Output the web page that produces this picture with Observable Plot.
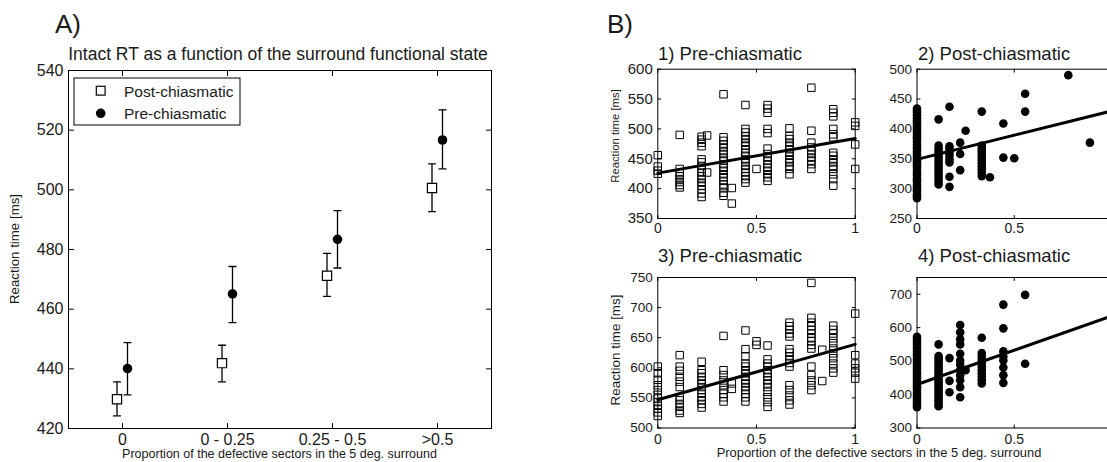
<!DOCTYPE html>
<html>
<head>
<meta charset="utf-8">
<script src="https://cdn.jsdelivr.net/npm/d3@7"></script>
<script src="https://cdn.jsdelivr.net/npm/@observablehq/plot@0.6"></script>
<style>
  html, body { margin: 0; padding: 0; background: #fff; overflow: hidden; }
  #wrap { position: relative; width: 1107px; height: 462px; overflow: hidden; background: #fff; }
  #wrap > svg { position: absolute; }
  #overlay { position: absolute; left: 0; top: 0; pointer-events: none; }
  #overlay text { font-family: 'Liberation Sans', Arial, Helvetica, sans-serif; fill: #1a1a1a; }
</style>
</head>
<body>
<div id="wrap"></div>
<script>
// ---------- Panel A data ----------
const catsA = ["0", "0 - 0.25", "0.25 - 0.5", ">0.5"];
const yTicksA = [420, 440, 460, 480, 500, 520, 540];
const postMean = [429.8, 441.9, 471.2, 500.6];
const postLo   = [424.2, 435.6, 464.3, 492.7];
const postHi   = [435.6, 447.9, 478.7, 508.7];
const preMean  = [440.1, 465.1, 483.4, 516.7];
const preLo    = [431.3, 455.5, 473.8, 507.0];
const preHi    = [448.8, 474.3, 493.0, 526.8];

// ---------- Panel B data (x value, list of reaction times) ----------
const xTicksB = [0, 0.5, 1];
const xTickLabelsLeft = [0, 0.5, 1];
const xTickLabelsRight = [0, 0.5];

const b1X = [0, 0.111, 0.222, 0.25, 0.333, 0.375, 0.444, 0.5, 0.556, 0.667, 0.778, 0.889, 1];
const b1Y = [
  [456, 437, 430, 425],
  [490, 433, 426, 421, 416, 411, 406, 402],
  [487, 482, 477, 471, 449, 444, 438, 433, 427, 421, 416, 410, 405, 399, 392, 386],
  [489, 427],
  [558, 486, 480, 474, 469, 463, 458, 452, 447, 441, 435, 430, 424, 419, 413, 407, 402, 393, 388],
  [401, 375],
  [540, 500, 494, 488, 483, 477, 472, 466, 460, 455, 449, 444, 438, 433, 427, 421, 416, 410],
  [433],
  [540, 534, 527, 500, 493, 467, 458, 452, 447, 441, 435, 430, 424, 419, 413],
  [501, 488, 483, 477, 472, 466, 460, 455, 449, 444, 438, 433, 424],
  [569, 497, 477, 469, 463, 458, 452, 447, 441, 433],
  [533, 527, 521, 500, 491, 486, 460, 455, 449, 444, 438, 433, 424, 416, 405],
  [511, 505, 474, 433]
];
const b1Fit = [426, 484];
const b1YTicks = [350, 400, 450, 500, 550, 600];

const b2X = [0, 0.111, 0.167, 0.222, 0.25, 0.333, 0.375, 0.444, 0.5, 0.556, 0.778, 0.889];
const b2Y = [
  [434, 430, 427, 423, 418, 414, 411, 406, 402, 399, 395, 390, 386, 383, 379, 374, 370, 367, 362, 358,
   355, 351, 346, 342, 339, 335, 330, 326, 323, 318, 314, 311, 306, 302, 299, 295, 290, 287, 284],
  [416, 372, 367, 362, 357, 352, 347, 342, 337, 332, 327, 322, 317, 312, 307],
  [437, 371, 366, 360, 355, 349, 344, 320, 303],
  [377, 358, 331],
  [397],
  [429, 372, 367, 362, 357, 352, 347, 342, 337, 332, 327, 321],
  [319],
  [409, 352],
  [351],
  [459, 429],
  [490],
  [377]
];
const b2Fit = [349, 430];
const b2YTicks = [250, 300, 350, 400, 450, 500];

const b3X = [0, 0.111, 0.222, 0.333, 0.375, 0.444, 0.5, 0.556, 0.667, 0.778, 0.833, 0.889, 1];
const b3Y = [
  [602, 591, 580, 571, 563, 555, 549, 543, 537, 532, 526, 520],
  [621, 602, 595, 585, 577, 568, 551, 546, 540, 535, 529, 525],
  [610, 596, 591, 585, 579, 574, 568, 563, 557, 551, 546, 540, 534],
  [653, 596, 588, 579, 571, 563, 557, 551, 544],
  [574, 565],
  [662, 631, 619, 607, 602, 596, 591, 585, 579, 574, 568, 563, 557, 551, 544],
  [644, 638],
  [637, 614, 607, 602, 596, 591, 585, 579, 574, 568, 560, 551, 543, 535],
  [675, 669, 663, 657, 652, 631, 625, 619, 614, 608, 602, 571, 563, 554, 546, 539],
  [741, 683, 675, 669, 663, 657, 649, 644, 638, 632, 602, 588, 579, 571, 563],
  [630, 578],
  [670, 663, 657, 649, 641, 632, 624, 616, 607, 599, 592],
  [690, 621, 607, 599, 592, 582]
];
const b3Fit = [547, 639];
const b3YTicks = [500, 550, 600, 650, 700, 750];

const b4X = [0, 0.111, 0.167, 0.222, 0.25, 0.333, 0.444, 0.556];
const b4Y = [
  [573, 566, 558, 551, 543, 536, 528, 520, 513, 505, 498, 490, 482, 475, 467, 460, 452, 444, 437, 429,
   422, 414, 406, 399, 391, 384, 376, 369, 362],
  [550, 515, 508, 500, 492, 485, 477, 470, 462, 455, 447, 440, 432, 425, 417, 410, 402, 395, 387, 380, 372, 365],
  [509, 441, 407],
  [608, 586, 565, 550, 522, 502, 489, 473, 458, 443, 422, 392],
  [473],
  [570, 524, 514, 504, 494, 484, 473, 463, 453, 443, 433],
  [669, 598, 529, 514, 502, 481, 458, 435],
  [698, 492]
];
const b4Fit = [430, 635];
const b4YTicks = [300, 400, 500, 600, 700];

// ---------- helpers ----------
const FONT = "'Liberation Sans', Arial, Helvetica, sans-serif";
const tickShape = { draw(ctx, l) { ctx.moveTo(0, 0); ctx.lineTo(0, -l); } };
const wrap = document.getElementById("wrap");

function innerTicks(xTicks, yTicks, len) {
  const o = { length: len, shape: tickShape, anchor: "start", stroke: "black", strokeWidth: 1 };
  return [
    Plot.vector(yTicks, { y: d => d, frameAnchor: "left", rotate: 90, ...o }),
    Plot.vector(yTicks, { y: d => d, frameAnchor: "right", rotate: -90, ...o }),
    Plot.vector(xTicks, { x: d => d, frameAnchor: "bottom", rotate: 0, ...o }),
    Plot.vector(xTicks, { x: d => d, frameAnchor: "top", rotate: 180, ...o })
  ];
}

function place(svg, left, top) {
  svg.style.left = left + "px";
  svg.style.top = top + "px";
  wrap.appendChild(svg);
}

// ---------- Panel A ----------
const postRows = catsA.map((c, i) => ({ cat: c, m: postMean[i], lo: postLo[i], hi: postHi[i] }));
const preRows = catsA.map((c, i) => ({ cat: c, m: preMean[i], lo: preLo[i], hi: preHi[i] }));
const capOpts = { length: 7, shape: tickShape, anchor: "middle", rotate: 90, stroke: "black", strokeWidth: 1.3 };

const plotA = Plot.plot({
  width: 500, height: 462,
  marginLeft: 68, marginRight: 9, marginTop: 70, marginBottom: 34,
  x: { type: "point", domain: catsA, padding: 0.5 },
  y: { domain: [420, 540] },
  style: { fontFamily: FONT, background: "transparent", color: "#1a1a1a", overflow: "visible" },
  marks: [
    Plot.frame({ stroke: "black", strokeWidth: 1 }),
    ...innerTicks(catsA, yTicksA, 5),
    Plot.axisY({ ticks: yTicksA, tickSize: 0, tickPadding: 5, fontSize: 16, label: null }),
    Plot.axisX({ tickSize: 0, tickPadding: 5, fontSize: 16, label: null }),
    Plot.ruleX(postRows, { x: "cat", y1: "lo", y2: "hi", dx: -5.5, stroke: "black", strokeWidth: 1.3 }),
    Plot.vector(postRows, { x: "cat", y: "lo", dx: -5.5, ...capOpts }),
    Plot.vector(postRows, { x: "cat", y: "hi", dx: -5.5, ...capOpts }),
    Plot.ruleX(preRows, { x: "cat", y1: "lo", y2: "hi", dx: 5, stroke: "black", strokeWidth: 1.3 }),
    Plot.vector(preRows, { x: "cat", y: "lo", dx: 5, ...capOpts }),
    Plot.vector(preRows, { x: "cat", y: "hi", dx: 5, ...capOpts }),
    Plot.dot(postRows, { x: "cat", y: "m", dx: -5.5, symbol: "square", r: 5.2, fill: "white", stroke: "black", strokeWidth: 1.2 }),
    Plot.dot(preRows, { x: "cat", y: "m", dx: 5, r: 4.8, fill: "black", stroke: "none" })
  ]
});
place(plotA, 0, 0);

// ---------- Panel B ----------
function panelB({ xs, ys, fit, yDomain, yTicks, xLabels, symbol, box, frame, yFont, xPad }) {
  const rows = xs.flatMap((x, i) => ys[i].map(y => ({ x, y })));
  const fitRows = [{ x: 0, y: fit[0] }, { x: 1, y: fit[1] }];
  const [bx, by, bw, bh] = box;
  const [fx0, fy0, fx1, fy1] = frame;
  const dotOpts = symbol === "square"
    ? { symbol: "square", r: 4.2, fill: "none", stroke: "black", strokeWidth: 1 }
    : { symbol: "circle", r: 4.3, fill: "black", stroke: "none" };
  const svg = Plot.plot({
    width: bw, height: bh,
    marginLeft: fx0 - bx, marginRight: bx + bw - fx1, marginTop: fy0 - by, marginBottom: by + bh - fy1,
    x: { domain: [0, 1] },
    y: { domain: yDomain },
    style: { fontFamily: FONT, background: "transparent", color: "#1a1a1a", overflow: "visible" },
    marks: [
      Plot.axisY({ ticks: yTicks, tickSize: 0, tickPadding: 5, fontSize: yFont, label: null, tickFormat: d => String(d) }),
      Plot.axisX({ ticks: xLabels, tickSize: 0, tickPadding: xPad, fontSize: 14, label: null, tickFormat: d => String(d) }),
      Plot.dot(rows, { x: "x", y: "y", ...dotOpts }),
      Plot.line(fitRows, { x: "x", y: "y", stroke: "black", strokeWidth: 3 }),
      Plot.frame({ stroke: "black", strokeWidth: 1 }),
      ...innerTicks(xTicksB, yTicks, 3)
    ]
  });
  place(svg, bx, by);
}

panelB({ xs: b1X, ys: b1Y, fit: b1Fit, yDomain: [350, 600], yTicks: b1YTicks, xLabels: xTickLabelsLeft, symbol: "square",
  box: [580, 0, 290, 240], frame: [657.3, 68.7, 854.7, 218], yFont: 15, xPad: 5 });
panelB({ xs: b2X, ys: b2Y, fit: b2Fit, yDomain: [250, 500], yTicks: b2YTicks, xLabels: xTickLabelsRight, symbol: "circle",
  box: [860, 0, 270, 240], frame: [916.5, 68.7, 1111, 218], yFont: 13.5, xPad: 5 });
panelB({ xs: b3X, ys: b3Y, fit: b3Fit, yDomain: [500, 750], yTicks: b3YTicks, xLabels: xTickLabelsLeft, symbol: "square",
  box: [580, 240, 290, 222], frame: [657.3, 277, 854.7, 427.5], yFont: 13.5, xPad: 6 });
panelB({ xs: b4X, ys: b4Y, fit: b4Fit, yDomain: [300, 750], yTicks: b4YTicks, xLabels: xTickLabelsRight, symbol: "circle",
  box: [860, 240, 270, 222], frame: [916.5, 277, 1111, 427.5], yFont: 13.5, xPad: 6 });

// ---------- overlay texts and legend ----------
const NS = "http://www.w3.org/2000/svg";
const ov = document.createElementNS(NS, "svg");
ov.setAttribute("id", "overlay");
ov.setAttribute("width", 1107);
ov.setAttribute("height", 462);
wrap.appendChild(ov);

function txt(s, x, y, size, anchor = "start", rot = 0) {
  const t = document.createElementNS(NS, "text");
  t.textContent = s;
  t.setAttribute("font-size", size);
  t.setAttribute("text-anchor", anchor);
  t.setAttribute("transform", `translate(${x},${y})` + (rot ? ` rotate(${rot})` : ""));
  ov.appendChild(t);
  return t;
}
function el(name, attrs) {
  const e = document.createElementNS(NS, name);
  for (const k in attrs) e.setAttribute(k, attrs[k]);
  ov.appendChild(e);
  return e;
}

txt("A)", 55, 33, 26);
txt("Intact RT as a function of the surround functional state", 278, 60, 17.5, "middle");
txt("Reaction time [ms]", 19, 249, 13.3, "middle", -90);
txt("Proportion of the defective sectors in the 5 deg. surround", 279.5, 458, 12.5, "middle");

// legend (panel A)
el("rect", { x: 74, y: 78, width: 166, height: 47, fill: "white", stroke: "black", "stroke-width": 1 });
el("rect", { x: 96.3, y: 86.3, width: 8.8, height: 8.8, fill: "white", stroke: "black", "stroke-width": 1.2 });
el("circle", { cx: 100.7, cy: 113.3, r: 4.8, fill: "black" });
txt("Post-chiasmatic", 124, 96.5, 15.5);
txt("Pre-chiasmatic", 124, 119, 15.5);

txt("B)", 607, 33, 26);
txt("1) Pre-chiasmatic", 658, 60, 18.5);
txt("2) Post-chiasmatic", 918, 60, 18.5);
txt("3) Pre-chiasmatic", 658, 262, 18.5);
txt("4) Post-chiasmatic", 918, 262, 18.5);
txt("Reaction time [ms]", 619, 136, 11.3, "middle", -90);
txt("Reaction time [ms]", 620, 350, 13.4, "middle", -90);
txt("Proportion of the defective sectors in the 5 deg. surround", 879, 457, 12.9, "middle");
</script>
</body>
</html>
